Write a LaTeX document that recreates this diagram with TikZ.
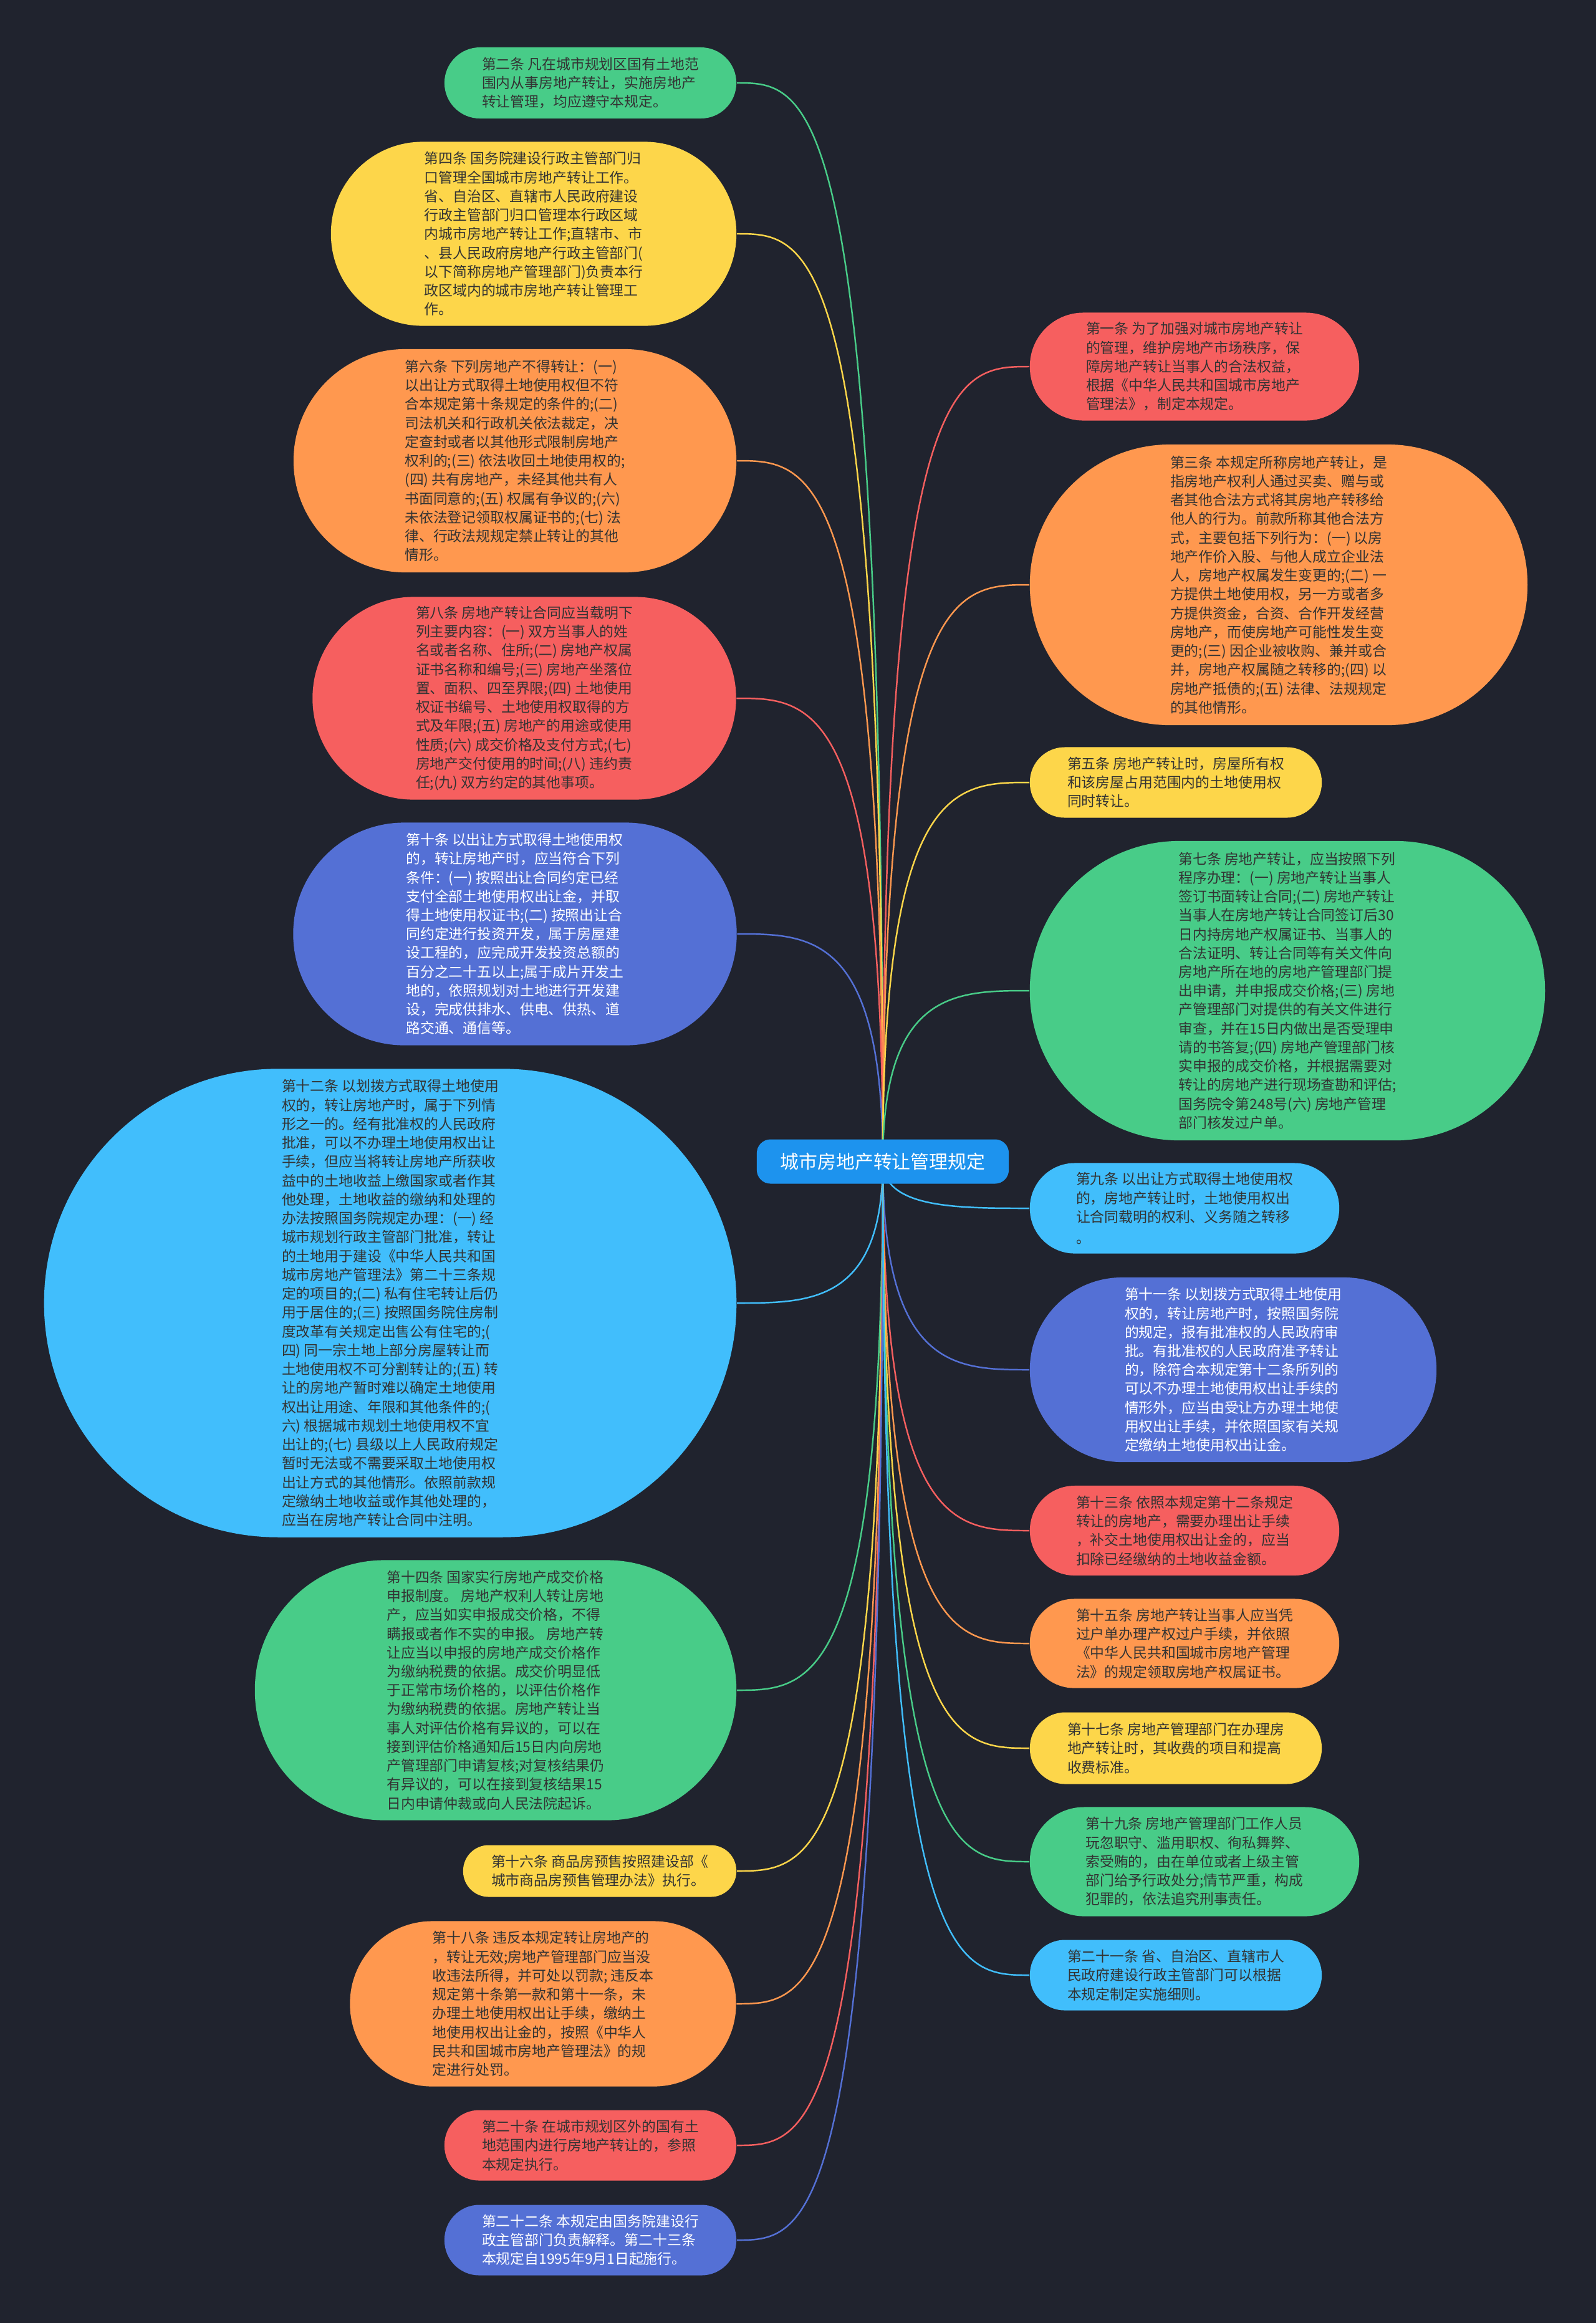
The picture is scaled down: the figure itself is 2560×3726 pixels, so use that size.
\documentclass[tikz,border=0pt]{standalone}
\usepackage{fontspec}
\setmainfont{Noto Sans CJK SC}
\usetikzlibrary{calc}
\definecolor{bgdark}{HTML}{20232E}
\definecolor{cgreen}{HTML}{48CC88}
\definecolor{cyellow}{HTML}{FDD64A}
\definecolor{corange}{HTML}{FF984F}
\definecolor{cred}{HTML}{F65F5F}
\definecolor{cindigo}{HTML}{5470D5}
\definecolor{clight}{HTML}{41BEFC}
\definecolor{croot}{HTML}{1D93EE}
\definecolor{ink}{HTML}{333333}
\pgfdeclarelayer{canvas}
\pgfdeclarelayer{links}
\pgfsetlayers{canvas,links,main}

\begin{document}
\begin{tikzpicture}[x=0.01cm,y=-0.01cm,
  leaf/.style={align=left,inner sep=0pt,text=ink,font=\fontsize{6.5pt}{8.6pt}\selectfont},
  light/.style={text=white},
  link/.style={line width=0.7pt}]
\begin{pgfonlayer}{canvas}
\fill[bgdark] (0,0) rectangle (2560,3726);
\end{pgfonlayer}
% centre
\node[fill=croot,text=white,rounded corners=0.22cm,minimum width=4.04cm,minimum height=0.71cm,inner sep=0pt,font=\fontsize{8.5pt}{10pt}\selectfont] (root) at (1416,1863) {城市房地产转让管理规定};
% left side
\node[leaf,fill=cgreen,minimum width=4.68cm,minimum height=1.14cm,rounded corners=0.57cm] (art2) at (947,133) {第二条 凡在城市规划区国有土地范\\
围内从事房地产转让，实施房地产\\
转让管理，均应遵守本规定。};
\node[leaf,fill=cyellow,minimum width=6.50cm,minimum height=2.95cm,rounded corners=1.47cm] (art4) at (856,375) {第四条 国务院建设行政主管部门归\\
口管理全国城市房地产转让工作。\\
省、自治区、直辖市人民政府建设\\
行政主管部门归口管理本行政区域\\
内城市房地产转让工作;直辖市、市\\
、县人民政府房地产行政主管部门(\\
以下简称房地产管理部门)负责本行\\
政区域内的城市房地产转让管理工\\
作。};
\node[leaf,fill=corange,minimum width=7.10cm,minimum height=3.58cm,rounded corners=1.79cm] (art6) at (826,739) {第六条 下列房地产不得转让：(一)\\
以出让方式取得土地使用权但不符\\
合本规定第十条规定的条件的;(二)\\
司法机关和行政机关依法裁定，决\\
定查封或者以其他形式限制房地产\\
权利的;(三) 依法收回土地使用权的;\\
(四) 共有房地产，未经其他共有人\\
书面同意的;(五) 权属有争议的;(六)\\
未依法登记领取权属证书的;(七) 法\\
律、行政法规规定禁止转让的其他\\
情形。};
\node[leaf,fill=cred,minimum width=6.79cm,minimum height=3.25cm,rounded corners=1.62cm] (art8) at (841,1120) {第八条 房地产转让合同应当载明下\\
列主要内容：(一) 双方当事人的姓\\
名或者名称、住所;(二) 房地产权属\\
证书名称和编号;(三) 房地产坐落位\\
置、面积、四至界限;(四) 土地使用\\
权证书编号、土地使用权取得的方\\
式及年限;(五) 房地产的用途或使用\\
性质;(六) 成交价格及支付方式;(七)\\
房地产交付使用的时间;(八) 违约责\\
任;(九) 双方约定的其他事项。};
\node[leaf,light,fill=cindigo,minimum width=7.11cm,minimum height=3.57cm,rounded corners=1.78cm] (art10) at (826,1498) {第十条 以出让方式取得土地使用权\\
的，转让房地产时，应当符合下列\\
条件：(一) 按照出让合同约定已经\\
支付全部土地使用权出让金，并取\\
得土地使用权证书;(二) 按照出让合\\
同约定进行投资开发，属于房屋建\\
设工程的，应完成开发投资总额的\\
百分之二十五以上;属于成片开发土\\
地的，依照规划对土地进行开发建\\
设，完成供排水、供电、供热、道\\
路交通、通信等。};
\node[leaf,fill=clight,minimum width=11.10cm,minimum height=7.51cm,rounded corners=3.75cm] (art12) at (626,2090) {第十二条 以划拨方式取得土地使用\\
权的，转让房地产时，属于下列情\\
形之一的。经有批准权的人民政府\\
批准，可以不办理土地使用权出让\\
手续，但应当将转让房地产所获收\\
益中的土地收益上缴国家或者作其\\
他处理，土地收益的缴纳和处理的\\
办法按照国务院规定办理：(一) 经\\
城市规划行政主管部门批准，转让\\
的土地用于建设《中华人民共和国\\
城市房地产管理法》第二十三条规\\
定的项目的;(二) 私有住宅转让后仍\\
用于居住的;(三) 按照国务院住房制\\
度改革有关规定出售公有住宅的;(\\
四) 同一宗土地上部分房屋转让而\\
土地使用权不可分割转让的;(五) 转\\
让的房地产暂时难以确定土地使用\\
权出让用途、年限和其他条件的;(\\
六) 根据城市规划土地使用权不宜\\
出让的;(七) 县级以上人民政府规定\\
暂时无法或不需要采取土地使用权\\
出让方式的其他情形。依照前款规\\
定缴纳土地收益或作其他处理的，\\
应当在房地产转让合同中注明。};
\node[leaf,fill=cgreen,minimum width=7.72cm,minimum height=4.17cm,rounded corners=2.08cm] (art14) at (795,2711) {第十四条 国家实行房地产成交价格\\
申报制度。 房地产权利人转让房地\\
产，应当如实申报成交价格，不得\\
瞒报或者作不实的申报。 房地产转\\
让应当以申报的房地产成交价格作\\
为缴纳税费的依据。成交价明显低\\
于正常市场价格的，以评估价格作\\
为缴纳税费的依据。房地产转让当\\
事人对评估价格有异议的，可以在\\
接到评估价格通知后15日内向房地\\
产管理部门申请复核;对复核结果仍\\
有异议的，可以在接到复核结果15\\
日内申请仲裁或向人民法院起诉。};
\node[leaf,fill=cyellow,minimum width=4.38cm,minimum height=0.83cm,rounded corners=0.41cm] (art16) at (962,3001) {第十六条 商品房预售按照建设部《\\
城市商品房预售管理办法》执行。};
\node[leaf,fill=corange,minimum width=6.19cm,minimum height=2.65cm,rounded corners=1.32cm] (art18) at (871,3214) {第十八条 违反本规定转让房地产的\\
，转让无效;房地产管理部门应当没\\
收违法所得，并可处以罚款; 违反本\\
规定第十条第一款和第十一条，未\\
办理土地使用权出让手续，缴纳土\\
地使用权出让金的，按照《中华人\\
民共和国城市房地产管理法》的规\\
定进行处罚。};
\node[leaf,fill=cred,minimum width=4.68cm,minimum height=1.13cm,rounded corners=0.56cm] (art20) at (947,3441) {第二十条 在城市规划区外的国有土\\
地范围内进行房地产转让的，参照\\
本规定执行。};
\node[leaf,light,fill=cindigo,minimum width=4.68cm,minimum height=1.13cm,rounded corners=0.56cm] (art22) at (947,3593) {第二十二条 本规定由国务院建设行\\
政主管部门负责解释。第二十三条\\
本规定自1995年9月1日起施行。};
% right side
\node[leaf,fill=cred,minimum width=5.28cm,minimum height=1.73cm,rounded corners=0.86cm] (art1) at (1916,588) {第一条 为了加强对城市房地产转让\\
的管理，维护房地产市场秩序，保\\
障房地产转让当事人的合法权益，\\
根据《中华人民共和国城市房地产\\
管理法》，制定本规定。};
\node[leaf,fill=corange,minimum width=7.98cm,minimum height=4.50cm,rounded corners=2.25cm] (art3) at (2051,938) {第三条 本规定所称房地产转让，是\\
指房地产权利人通过买卖、赠与或\\
者其他合法方式将其房地产转移给\\
他人的行为。前款所称其他合法方\\
式，主要包括下列行为：(一) 以房\\
地产作价入股、与他人成立企业法\\
人，房地产权属发生变更的;(二) 一\\
方提供土地使用权，另一方或者多\\
方提供资金，合资、合作开发经营\\
房地产，而使房地产可能性发生变\\
更的;(三) 因企业被收购、兼并或合\\
并，房地产权属随之转移的;(四) 以\\
房地产抵债的;(五) 法律、法规规定\\
的其他情形。};
\node[leaf,fill=cyellow,minimum width=4.68cm,minimum height=1.13cm,rounded corners=0.56cm] (art5) at (1886,1255) {第五条 房地产转让时，房屋所有权\\
和该房屋占用范围内的土地使用权\\
同时转让。};
\node[leaf,fill=cgreen,minimum width=8.26cm,minimum height=4.80cm,rounded corners=2.40cm] (art7) at (2065,1589) {第七条 房地产转让，应当按照下列\\
程序办理：(一) 房地产转让当事人\\
签订书面转让合同;(二) 房地产转让\\
当事人在房地产转让合同签订后30\\
日内持房地产权属证书、当事人的\\
合法证明、转让合同等有关文件向\\
房地产所在地的房地产管理部门提\\
出申请，并申报成交价格;(三) 房地\\
产管理部门对提供的有关文件进行\\
审查，并在15日内做出是否受理申\\
请的书答复;(四) 房地产管理部门核\\
实申报的成交价格，并根据需要对\\
转让的房地产进行现场查勘和评估;\\
国务院令第248号(六) 房地产管理\\
部门核发过户单。};
\node[leaf,fill=clight,minimum width=4.96cm,minimum height=1.45cm,rounded corners=0.72cm] (art9) at (1900,1938) {第九条 以出让方式取得土地使用权\\
的，房地产转让时，土地使用权出\\
让合同载明的权利、义务随之转移\\[1pt]
。};
\node[leaf,light,fill=cindigo,minimum width=6.52cm,minimum height=2.96cm,rounded corners=1.48cm] (art11) at (1978,2197) {第十一条 以划拨方式取得土地使用\\
权的，转让房地产时，按照国务院\\
的规定，报有批准权的人民政府审\\
批。有批准权的人民政府准予转让\\
的，除符合本规定第十二条所列的\\
可以不办理土地使用权出让手续的\\
情形外，应当由受让方办理土地使\\
用权出让手续，并依照国家有关规\\
定缴纳土地使用权出让金。};
\node[leaf,fill=cred,minimum width=4.96cm,minimum height=1.44cm,rounded corners=0.72cm] (art13) at (1900,2455) {第十三条 依照本规定第十二条规定\\
转让的房地产，需要办理出让手续\\
，补交土地使用权出让金的，应当\\
扣除已经缴纳的土地收益金额。};
\node[leaf,fill=corange,minimum width=4.96cm,minimum height=1.43cm,rounded corners=0.71cm] (art15) at (1900,2636) {第十五条 房地产转让当事人应当凭\\
过户单办理产权过户手续，并依照\\
《中华人民共和国城市房地产管理\\
法》的规定领取房地产权属证书。};
\node[leaf,fill=cyellow,minimum width=4.68cm,minimum height=1.15cm,rounded corners=0.57cm] (art17) at (1886,2804) {第十七条 房地产管理部门在办理房\\
地产转让时，其收费的项目和提高\\
收费标准。};
\node[leaf,fill=cgreen,minimum width=5.28cm,minimum height=1.75cm,rounded corners=0.87cm] (art19) at (1916,2986) {第十九条 房地产管理部门工作人员\\
玩忽职守、滥用职权、徇私舞弊、\\
索受贿的，由在单位或者上级主管\\
部门给予行政处分;情节严重，构成\\
犯罪的，依法追究刑事责任。};
\node[leaf,fill=clight,minimum width=4.68cm,minimum height=1.13cm,rounded corners=0.56cm] (art21) at (1886,3168) {第二十一条 省、自治区、直辖市人\\
民政府建设行政主管部门可以根据\\
本规定制定实施细则。};
% connectors
\begin{pgfonlayer}{links}
\foreach \n/\c in {art2/cgreen,art4/cyellow,art6/corange,art8/cred,art10/cindigo,art12/clight,art14/cgreen,art16/cyellow,art18/corange,art20/cred,art22/cindigo}
  \draw[link,draw=\c] (root.center) .. controls (root.center |- \n.east) and ($(root.center |- \n.east)!0.5!(\n.east)$) .. (\n.east);
\foreach \n/\c in {art1/cred,art3/corange,art5/cyellow,art7/cgreen,art9/clight,art11/cindigo,art13/cred,art15/corange,art17/cyellow,art19/cgreen,art21/clight}
  \draw[link,draw=\c] (root.center) .. controls (root.center |- \n.west) and ($(root.center |- \n.west)!0.5!(\n.west)$) .. (\n.west);
\end{pgfonlayer}
\end{tikzpicture}
\end{document}
